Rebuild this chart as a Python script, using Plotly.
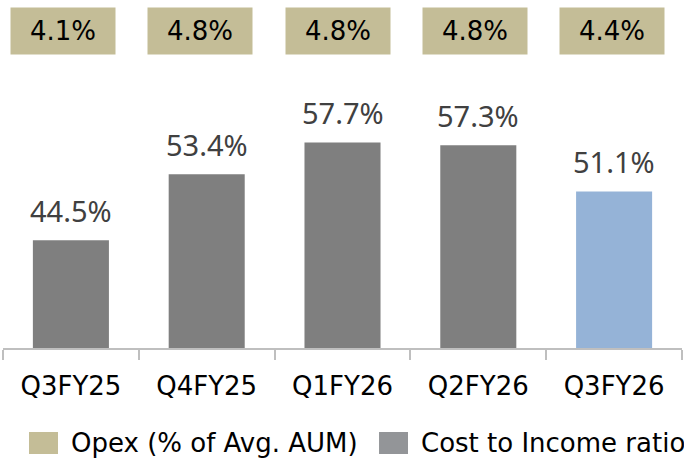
import plotly.graph_objects as go

# data
quarters = ["Q3FY25", "Q4FY25", "Q1FY26", "Q2FY26", "Q3FY26"]
cost_to_income = [44.5, 53.4, 57.7, 57.3, 51.1]
opex_pct_aum = [4.1, 4.8, 4.8, 4.8, 4.4]

GREY = "#7F7F7F"
BLUE = "#95B3D7"
KHAKI = "#C4BD97"
LEGEND_GREY = "#939598"
AXIS = "#BFBFBF"

bar_colors = [GREY] * (len(quarters) - 1) + [BLUE]

fig = go.Figure()

fig.add_trace(
    go.Bar(
        x=quarters,
        y=cost_to_income,
        marker=dict(color=bar_colors, line=dict(width=0)),
        showlegend=False,
        hoverinfo="skip",
    )
)

# value labels above the bars
for q, v in zip(quarters, cost_to_income):
    fig.add_annotation(
        x=q, y=v, text=f"{v:.1f}%",
        showarrow=False, yanchor="bottom", yshift=8,
        font=dict(family="Noto Sans", size=29, color="#404040"),
    )

# opex boxes along the top
for i, (q, v) in enumerate(zip(quarters, opex_pct_aum)):
    fig.add_annotation(
        x=q, y=1.1007, yref="paper", text=f"{v:.1f}%",
        showarrow=False, xshift=-8 + 1.5 * i, yanchor="middle",
        width=104, height=46, borderpad=0, bgcolor=KHAKI,
        valign="middle",
        font=dict(family="DejaVu Sans", size=26, color="#000000"),
    )

# legend drawn by hand so the swatches can be large
legend_items = [
    ("Opex (% of Avg. AUM)", KHAKI, 0.0383),
    ("Cost to Income ratio", LEGEND_GREY, 0.5538),
]
for label, color, x0 in legend_items:
    fig.add_shape(
        type="rect", xref="paper", yref="paper",
        x0=x0, x1=x0 + 0.0427, y0=-0.368, y1=-0.2917,
        fillcolor=color, line=dict(width=0),
    )
    fig.add_annotation(
        x=x0 + 0.0604, y=-0.33, xref="paper", yref="paper",
        text=label, showarrow=False, xanchor="left", yanchor="middle",
        borderpad=0,
        font=dict(family="DejaVu Sans", size=26, color="#000000"),
    )

fig.update_layout(
    width=684,
    height=458,
    margin=dict(l=3, r=2, t=60, b=110),
    plot_bgcolor="white",
    paper_bgcolor="white",
    bargap=0.44,
    xaxis=dict(
        showline=True, linecolor=AXIS, linewidth=1.5,
        ticks="outside", tickson="boundaries", ticklen=10,
        tickcolor=AXIS, tickwidth=1.5,
        showgrid=False, automargin=False,
        ticklabelstandoff=14,
        tickfont=dict(family="DejaVu Sans", size=26, color="#000000"),
    ),
    yaxis=dict(range=[30, 68.8], visible=False),
)

fig.write_html(
    "out.html",
    config={"displayModeBar": False},
    post_script="document.body.style.margin='0';",
)
